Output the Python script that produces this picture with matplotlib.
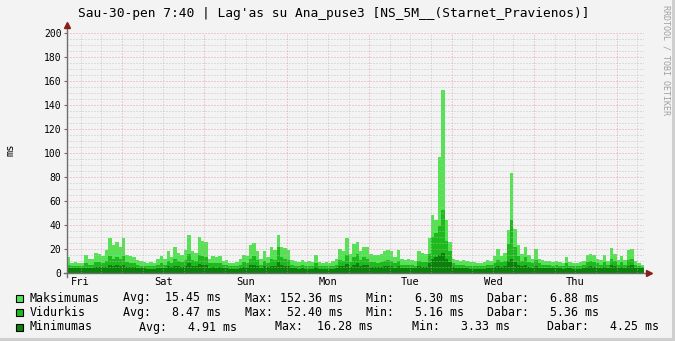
import numpy as np
import matplotlib
matplotlib.use('Agg')
import matplotlib.pyplot as plt
from matplotlib.patches import Rectangle

W, H = 675, 341
MONO = 'DejaVu Sans Mono'

# hourly samples, starting Fri 08:00, one week
maks = [13, 8, 9, 8, 8, 15, 12, 12, 17, 16, 14, 19, 29, 23, 26, 22,
        29, 15, 14, 13, 11, 10, 9, 8, 9, 8, 12, 14, 12, 18, 13, 22,
        17, 15, 19, 32, 18, 17, 30, 27, 26, 12, 14, 13, 14, 10, 11, 8,
        8, 9, 12, 15, 14, 23, 25, 18, 12, 18, 13, 22, 19, 32, 22, 21,
        19, 11, 10, 9, 11, 9, 10, 9, 15, 9, 8, 9, 8, 10, 12, 20,
        18, 29, 16, 24, 26, 18, 22, 22, 16, 15, 15, 16, 18, 19, 18, 13,
        19, 12, 11, 12, 11, 10, 18, 17, 16, 29, 48, 44, 97, 152.36, 44, 26,
        12, 11, 10, 11, 10, 9, 9, 8, 8, 9, 11, 10, 14, 20, 14, 17,
        36, 83.6, 37, 23, 16, 22, 15, 12, 20, 12, 11, 10, 10, 9, 10, 9,
        8, 13, 9, 8, 8, 9, 10, 15, 16, 15, 12, 11, 15, 10, 21, 16,
        11, 14, 11, 19, 20, 10, 8, 6.88]

vidurkis = [7, 6, 6, 6, 6, 8, 7, 7, 9, 9, 8, 10, 14, 12, 13, 12,
            14, 9, 8, 8, 7, 6, 6, 6, 6, 6, 7, 8, 7, 10, 8, 12,
            10, 9, 11, 16, 11, 10, 15, 14, 13, 8, 8, 8, 8, 7, 7, 6,
            6, 6, 7, 9, 8, 12, 14, 11, 7, 10, 8, 12, 11, 22, 13, 12,
            11, 7, 6, 6, 7, 6, 6, 6, 8, 6, 6, 6, 6, 6, 7, 11,
            10, 15, 9, 13, 16, 11, 13, 12, 9, 9, 8, 9, 10, 11, 10, 8,
            10, 7, 7, 7, 7, 6, 10, 9, 9, 16, 30, 33, 39, 52.4, 27, 18,
            8, 7, 7, 7, 6, 6, 6, 6, 6, 6, 7, 7, 8, 11, 9, 10,
            24, 44, 22, 14, 10, 13, 9, 8, 11, 8, 7, 7, 7, 6, 7, 6,
            6, 8, 6, 6, 6, 6, 7, 9, 10, 9, 8, 7, 9, 7, 12, 10,
            7, 9, 7, 11, 12, 7, 6, 5.36]

minimumas = [4.5, 4.2, 4.0, 4.0, 3.9, 4.5, 4.4, 4.3, 5.0, 5.0, 4.6, 5.2, 6.5, 6.0, 6.5, 6.0,
             7.0, 5.0, 4.8, 4.6, 4.2, 4.0, 3.8, 3.7, 3.6, 3.6, 4.0, 4.5, 4.2, 5.5, 4.6, 6.0,
             5.5, 5.0, 6.0, 8.0, 6.0, 5.5, 7.5, 7.0, 6.5, 4.5, 4.8, 4.5, 4.6, 4.0, 4.0, 3.7,
             3.5, 3.6, 4.0, 5.0, 4.6, 6.5, 7.0, 6.0, 4.2, 5.5, 4.6, 6.0, 6.0, 9.0, 6.5, 6.0,
             5.8, 4.2, 3.8, 3.6, 4.0, 3.6, 3.7, 3.6, 4.6, 3.6, 3.4, 3.5, 3.33, 3.6, 4.0, 6.0,
             5.5, 7.5, 5.0, 6.5, 8.0, 6.0, 6.5, 6.5, 5.0, 5.0, 4.6, 5.0, 5.5, 5.8, 5.5, 4.5,
             5.5, 4.2, 4.0, 4.0, 3.9, 3.8, 5.5, 5.0, 5.0, 8.0, 12.0, 13.5, 15.0, 16.28, 12.0, 9.0,
             4.6, 4.2, 4.0, 4.0, 3.8, 3.7, 3.6, 3.6, 3.5, 3.6, 4.0, 4.0, 4.6, 6.0, 5.0, 5.5,
             10.0, 12.0, 9.5, 7.0, 5.5, 6.5, 5.0, 4.5, 6.0, 4.5, 4.2, 4.0, 4.0, 3.8, 4.0, 3.8,
             3.6, 4.5, 3.8, 3.6, 3.6, 3.7, 4.0, 5.0, 5.5, 5.0, 4.5, 4.2, 5.0, 4.2, 6.5, 5.5,
             4.2, 5.0, 4.2, 6.0, 6.5, 4.2, 3.8, 4.25]

day_labels = ['Fri', 'Sat', 'Sun', 'Mon', 'Tue', 'Wed', 'Thu']
day_noon = [4, 28, 52, 76, 100, 124, 148]
midnights = [16, 40, 64, 88, 112, 136, 160]

names = ['Maksimumas', 'Vidurkis', 'Minimumas']
colors = ['#55E255', '#1CBA1C', '#0A820A']
avg_txt = ['Avg:  15.45 ms', 'Avg:   8.47 ms', 'Avg:   4.91 ms']
max_txt = ['Max: 152.36 ms', 'Max:  52.40 ms', 'Max:  16.28 ms']
min_txt = ['Min:   6.30 ms', 'Min:   5.16 ms', 'Min:   3.33 ms']
cur_txt = ['Dabar:   6.88 ms', 'Dabar:   5.36 ms', 'Dabar:   4.25 ms']


def px(x, y):
    return x / W, 1 - y / H


fig = plt.figure(figsize=(W / 100, H / 100), dpi=100, facecolor='#F3F3F3')
ax = fig.add_axes([67 / W, (H - 273) / H, (644 - 67) / W, (273 - 33) / H])
ax.set_facecolor('#F3F3F3')

n = len(maks)
edges = np.arange(n + 1)
for vals, c in zip([maks, vidurkis, minimumas], colors):
    v = np.append(vals, vals[-1])
    ax.fill_between(edges, 0, v, step='post', color=c, linewidth=0, zorder=2)

ax.set_xlim(0, n)
ax.set_ylim(0, 200)

# grid, drawn over the data like rrdtool does
for yv in range(5, 201, 5):
    if yv % 20 == 0:
        ax.axhline(yv, color='#E09090', lw=0.72, ls=(0, (1, 2)), alpha=0.8, zorder=3)
    else:
        ax.axhline(yv, color='#BBBBBB', lw=0.72, ls=(0, (1, 2)), alpha=0.8, zorder=3)
for xv in range(4, n, 6):
    if xv in midnights:
        ax.axvline(xv, color='#E09090', lw=0.72, ls=(0, (1, 2)), alpha=0.8, zorder=3)
    else:
        ax.axvline(xv, color='#BBBBBB', lw=0.72, ls=(0, (1, 2)), alpha=0.8, zorder=3)

for s in ax.spines.values():
    s.set_visible(False)

# axes with arrows
ax.plot([0, 0], [-3, 207], color='#6E6E6E', lw=1, clip_on=False, zorder=4)
ax.plot([-1, n + 1.5], [0, 0], color='#6E6E6E', lw=1, clip_on=False, zorder=4)
ax.plot([0], [207], marker='^', color='#8B1C1C', ms=4, clip_on=False, zorder=5)
ax.plot([n + 1.5], [0], marker='>', color='#8B1C1C', ms=4, clip_on=False, zorder=5)

ax.set_yticks(range(0, 201, 20))
ax.set_yticklabels([str(v) for v in range(0, 201, 20)], fontfamily=MONO, fontsize=7)
ax.set_xticks(day_noon)
ax.set_xticklabels(day_labels, fontfamily=MONO, fontsize=7.5)
ax.tick_params(axis='y', length=2, width=0.8, color='#6E6E6E', pad=2)
ax.tick_params(axis='x', length=0, pad=3)

fig.text(*px(11, 150), 'ms', rotation=90, ha='center', va='center',
         fontfamily=MONO, fontsize=7.5)
fig.text(*px(334, 13), "Sau-30-pen 7:40 | Lag'as su Ana_puse3 [NS_5M__(Starnet_Pravienos)]",
         ha='center', va='center', fontfamily=MONO, fontsize=9.3)
fig.text(*px(666, 5), 'RRDTOOL / TOBI OETIKER', rotation=270, ha='center', va='top',
         fontfamily=MONO, fontsize=6, color='#A0A0A0')

# legend rows
row_y = [298, 312.5, 327]
cols = [[123, 245, 366, 487], [123, 245, 366, 487], [139, 275, 412, 547]]
for i in range(3):
    y = row_y[i]
    fig.patches.append(Rectangle(px(16, y + 3.5), 7 / W, 7 / H, transform=fig.transFigure,
                                 facecolor=colors[i], edgecolor='black', lw=0.8))
    fig.text(*px(30, y), names[i], va='center', fontfamily=MONO, fontsize=8.4)
    for x, t in zip(cols[i], [avg_txt[i], max_txt[i], min_txt[i], cur_txt[i]]):
        fig.text(*px(x, y), t, va='center', fontfamily=MONO, fontsize=8.4)

# frame shading on right and bottom
fig.patches.append(Rectangle((1 - 3 / W, 0), 3 / W, 1, transform=fig.transFigure,
                             facecolor='#CFCFCF', lw=0))
fig.patches.append(Rectangle((0, 0), 1, 3 / H, transform=fig.transFigure,
                             facecolor='#CFCFCF', lw=0))

fig.savefig('out.png', dpi=100, facecolor=fig.get_facecolor())
